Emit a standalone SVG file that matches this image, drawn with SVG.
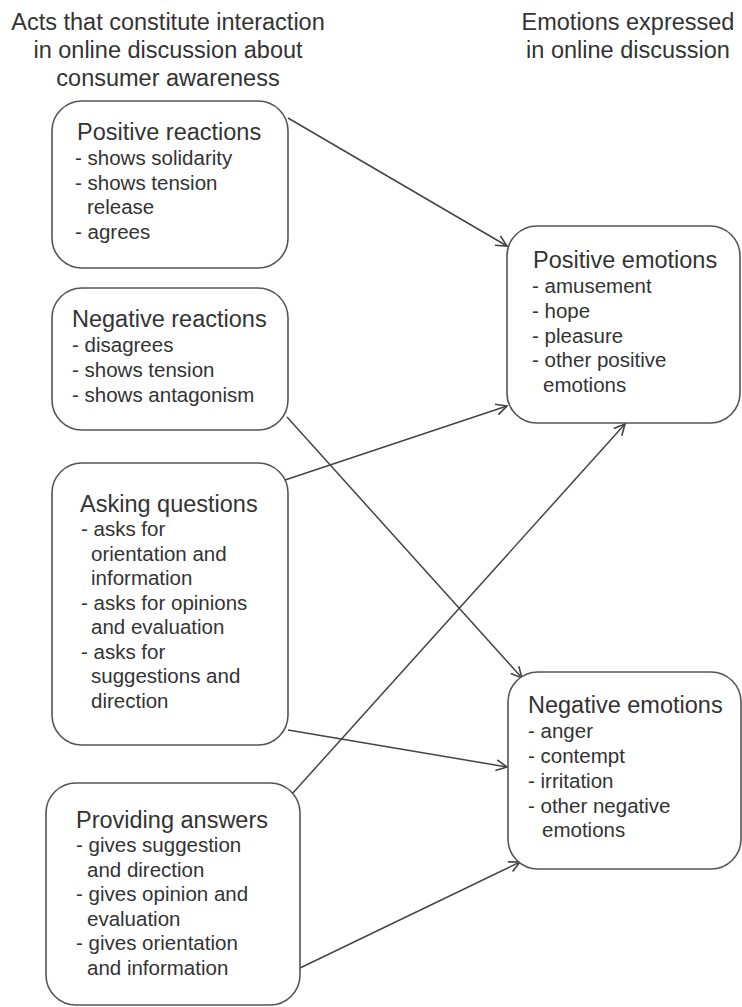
<svg xmlns="http://www.w3.org/2000/svg" width="742" height="1007" viewBox="0 0 742 1007">
<style>
text{font-family:"Liberation Sans",Arial,sans-serif;fill:#333}
.h{font-size:23.5px;text-anchor:middle}
.t{font-size:23.5px}
.i{font-size:20.5px}
.box{fill:#fff;stroke:#555;stroke-width:1.6}
.c{stroke:#444;stroke-width:1.5;fill:none;marker-end:url(#ah)}
</style>
<defs>
<marker id="ah" viewBox="0 0 12 12" refX="11" refY="6" markerWidth="13" markerHeight="13" markerUnits="userSpaceOnUse" orient="auto">
<path d="M1,1 L11,6 L1,11" fill="none" stroke="#444" stroke-width="1.5"/>
</marker>
</defs>
<rect width="742" height="1007" fill="#fff"/>
<g id="header-left">
<text class="h" x="168" y="30">Acts that constitute interaction</text>
<text class="h" x="168" y="58">in online discussion about</text>
<text class="h" x="168" y="86">consumer awareness</text>
</g>
<g id="header-right">
<text class="h" x="628" y="30">Emotions expressed</text>
<text class="h" x="628" y="58">in online discussion</text>
</g>
<g id="connectors">
<line class="c" x1="288" y1="118" x2="507" y2="246"/>
<line class="c" x1="287" y1="417" x2="522" y2="678"/>
<line class="c" x1="285" y1="480" x2="507" y2="406"/>
<line class="c" x1="288" y1="730" x2="507" y2="767"/>
<line class="c" x1="292" y1="794" x2="625" y2="424"/>
<line class="c" x1="300" y1="968" x2="520" y2="862"/>
</g>
<g id="positive-reactions">
<rect class="box" x="52" y="101" width="236" height="167" rx="30"/>
<text class="t" x="77" y="140">Positive reactions</text>
<text class="i" x="75" y="165">- shows solidarity</text>
<text class="i" x="75" y="189.5">- shows tension</text>
<text class="i" x="87" y="214">release</text>
<text class="i" x="75" y="238.5">- agrees</text>
</g>
<g id="negative-reactions">
<rect class="box" x="52" y="288" width="236" height="142" rx="30"/>
<text class="t" x="72" y="327">Negative reactions</text>
<text class="i" x="72" y="352">- disagrees</text>
<text class="i" x="72" y="377">- shows tension</text>
<text class="i" x="72" y="402">- shows antagonism</text>
</g>
<g id="asking-questions">
<rect class="box" x="52" y="463" width="236" height="282" rx="30"/>
<text class="t" x="80" y="512">Asking questions</text>
<text class="i" x="81" y="536">- asks for</text>
<text class="i" x="91" y="560.5">orientation and</text>
<text class="i" x="91" y="585">information</text>
<text class="i" x="81" y="609.5">- asks for opinions</text>
<text class="i" x="91" y="634">and evaluation</text>
<text class="i" x="81" y="658.5">- asks for</text>
<text class="i" x="91" y="683">suggestions and</text>
<text class="i" x="91" y="707.5">direction</text>
</g>
<g id="providing-answers">
<rect class="box" x="46" y="783" width="254" height="222" rx="30"/>
<text class="t" x="76" y="828">Providing answers</text>
<text class="i" x="76" y="852">- gives suggestion</text>
<text class="i" x="87" y="876.5">and direction</text>
<text class="i" x="76" y="901">- gives opinion and</text>
<text class="i" x="87" y="925.5">evaluation</text>
<text class="i" x="76" y="950">- gives orientation</text>
<text class="i" x="87" y="974.5">and information</text>
</g>
<g id="positive-emotions">
<rect class="box" x="507" y="226" width="233" height="197" rx="30"/>
<text class="t" x="533" y="268">Positive emotions</text>
<text class="i" x="532" y="293">- amusement</text>
<text class="i" x="532" y="318">- hope</text>
<text class="i" x="532" y="343">- pleasure</text>
<text class="i" x="532" y="367">- other positive</text>
<text class="i" x="543" y="392">emotions</text>
</g>
<g id="negative-emotions">
<rect class="box" x="508" y="672" width="233" height="197" rx="30"/>
<text class="t" x="528" y="713">Negative emotions</text>
<text class="i" x="528" y="738">- anger</text>
<text class="i" x="528" y="763">- contempt</text>
<text class="i" x="528" y="788">- irritation</text>
<text class="i" x="528" y="813">- other negative</text>
<text class="i" x="542" y="837">emotions</text>
</g>
</svg>
